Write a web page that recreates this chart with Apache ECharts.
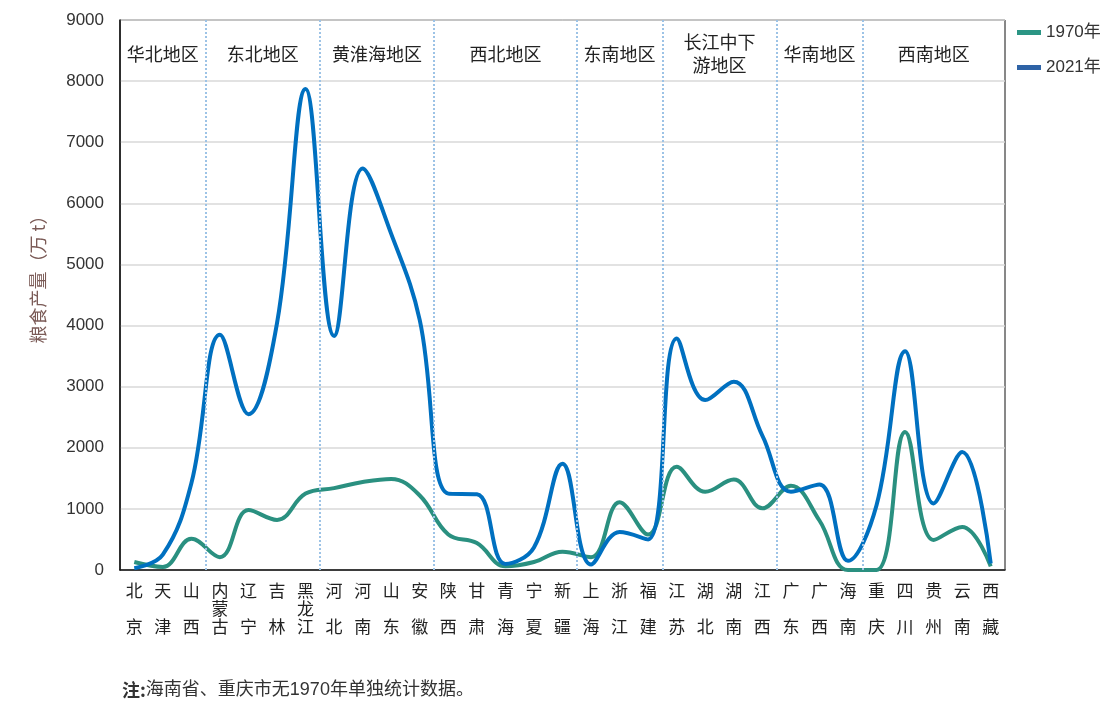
<!DOCTYPE html>
<html><head><meta charset="utf-8">
<script src="https://cdn.jsdelivr.net/npm/echarts@6/dist/echarts.min.js"></script>
<style>html,body{margin:0;padding:0;background:#fff}#c{width:1111px;height:705px}</style>
</head><body><div id="c"></div>
<script>
const categories = ['北京','天津','山西','内蒙古','辽宁','吉林','黑龙江','河北','河南','山东','安徽','陕西','甘肃','青海','宁夏','新疆','上海','浙江','福建','江苏','湖北','湖南','江西','广东','广西','海南','重庆','四川','贵州','云南','西藏'];
const values1970 = [130, 50, 510, 210, 980, 820, 1250, 1340, 1440, 1490, 1220, 580, 440, 60, 130, 300, 210, 1110, 580, 1690, 1280, 1480, 1010, 1380, 810, 0, 0, 2260, 490, 705, 60];
const values2021 = [30, 250, 1420, 3850, 2550, 4040, 7870, 3830, 6570, 5500, 4090, 1250, 1240, 100, 370, 1740, 90, 620, 500, 3790, 2780, 3080, 2200, 1280, 1400, 150, 1060, 3580, 1090, 1930, 105];
const yMin = 0, yMax = 9000, yStep = 1000;
const regionNames = ['华北地区','东北地区','黄淮海地区','西北地区','东南地区','长江中下\n游地区','华南地区','西南地区'];
const regionSizes = [3, 4, 4, 5, 3, 4, 3, 5];
const seriesNames = ['1970年', '2021年'];
const yAxisName = '粮食产量（万 t）';
const noteLabel = '注:';
const noteText = '海南省、重庆市无1970年单独统计数据。';

const FONT = '"Liberation Sans", "Noto Sans CJK SC", sans-serif';
const CJK = '"Noto Sans CJK SC", "Liberation Sans", sans-serif';

// region spans on an auxiliary value axis (one unit per category)
const regionSpans = [];
let acc = 0;
regionSizes.forEach((n, i) => { regionSpans.push([acc, acc + n, regionNames[i]]); acc += n; });
const boundaries = regionSpans.slice(1).map(s => s[0]);

const chart = echarts.init(document.getElementById('c'));
chart.setOption({
  animation: false,
  backgroundColor: '#fff',
  textStyle: { fontFamily: FONT },
  title: {
    left: 117, top: 676,
    text: '{b|' + noteLabel + '}{n|' + noteText + '}',
    textStyle: {
      fontWeight: 'normal',
      rich: {
        b: { fontFamily: CJK, fontWeight: 'bold', fontSize: 18, color: '#333' },
        n: { fontFamily: FONT, fontWeight: 'normal', fontSize: 18, color: '#333' }
      }
    }
  },
  legend: {
    orient: 'vertical', left: 1012, top: 19, itemGap: 18,
    itemWidth: 24, itemHeight: 5, icon: 'rect',
    textStyle: { fontSize: 17, color: '#333', fontFamily: FONT },
    data: [
      { name: seriesNames[0], itemStyle: { color: '#2b9584' } },
      { name: seriesNames[1], itemStyle: { color: '#2e63a6' } }
    ]
  },
  grid: { left: 120, right: 106, top: 20, bottom: 135, show: true, borderColor: '#111', borderWidth: 1, backgroundColor: 'transparent' },
  xAxis: [{
    type: 'category', data: categories, boundaryGap: true,
    axisTick: { show: false },
    axisLine: { lineStyle: { color: '#111', width: 1.5 } },
    axisLabel: {
      interval: 0, margin: 12, fontSize: 17, lineHeight: 18, color: '#222', fontFamily: CJK,
      formatter: v => { const c = v.split(''); return c.length === 2 ? c[0] + '\n\n' + c[1] : c.join('\n'); }
    }
  }, {
    type: 'value', min: 0, max: categories.length, show: false
  }],
  yAxis: {
    type: 'value', min: yMin, max: yMax, interval: yStep,
    name: yAxisName, nameLocation: 'middle', nameGap: 73, nameRotate: 90,
    nameTextStyle: { fontSize: 18, color: '#7b5b57', fontFamily: CJK, padding: [0, 0, 0, 40] },
    axisLine: { show: true, lineStyle: { color: '#111', width: 1.5 } },
    axisTick: { show: false },
    axisLabel: { fontSize: 17, color: '#333', margin: 16, fontFamily: FONT, formatter: v => String(v) },
    splitLine: { lineStyle: { color: '#d9d9d9', width: 1.5 } }
  },
  series: [
    {
      name: seriesNames[0], type: 'line', data: values1970, smooth: 0.4, symbol: 'none',
      lineStyle: { color: '#2a9080', width: 4 }, itemStyle: { color: '#2a9080' }, z: 3
    },
    {
      name: seriesNames[1], type: 'line', data: values2021, smooth: 0.4, symbol: 'none',
      lineStyle: { color: '#0070c0', width: 4 }, itemStyle: { color: '#0070c0' }, z: 4
    },
    {
      name: 'regions', type: 'line', xAxisIndex: 1, data: [], silent: true,
      markLine: {
        silent: true, symbol: ['none', 'none'], label: { show: false },
        lineStyle: { type: 'dotted', color: '#9dc3e6', width: 2 },
        data: boundaries.map(b => ({ xAxis: b }))
      },
      markArea: {
        silent: true, itemStyle: { color: 'rgba(0,0,0,0)' },
        label: {
          show: true, position: 'insideTop', distance: 34, verticalAlign: 'middle',
          fontSize: 18, lineHeight: 23, color: '#222', fontFamily: CJK
        },
        data: regionSpans.map(s => [{ name: s[2], xAxis: s[0] }, { xAxis: s[1] }])
      }
    }
  ]
});
</script></body></html>
